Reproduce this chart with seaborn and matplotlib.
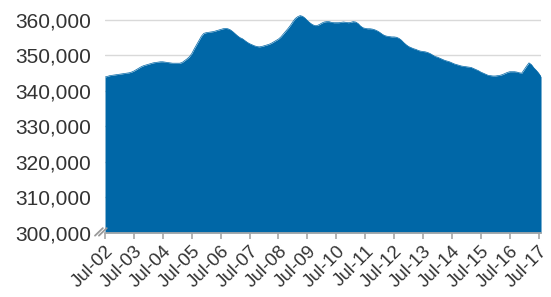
import numpy as np
import pandas as pd
import matplotlib
matplotlib.use("Agg")
import matplotlib.pyplot as plt
import seaborn as sns

# monthly values, Jul-02 .. Aug-17 (thousands)
values_k = [
    343.9, 344.1, 344.3, 344.4, 344.5, 344.6, 344.7, 344.8, 344.9, 345.0, 345.1, 345.3,
    345.6, 346.0, 346.4, 346.8, 347.1, 347.3, 347.5, 347.7, 347.9, 348.0, 348.1, 348.2,
    348.2, 348.1, 348.0, 347.9, 347.8, 347.8, 347.8, 347.8, 348.0, 348.5, 349.0, 349.6,
    350.5, 351.8, 353.0, 354.2, 355.4, 356.2, 356.4, 356.5, 356.6, 356.7, 356.9, 357.1,
    357.3, 357.5, 357.6, 357.5, 357.2, 356.7, 356.1, 355.5, 355.0, 354.7, 354.2, 353.7,
    353.3, 353.0, 352.7, 352.5, 352.4, 352.5, 352.7, 352.9, 353.1, 353.4, 353.8, 354.2,
    354.6, 355.2, 356.0, 356.8, 357.6, 358.5, 359.5, 360.4, 360.9, 361.2, 361.0, 360.5,
    359.8, 359.2, 358.7, 358.4, 358.4, 358.7, 359.1, 359.4, 359.5, 359.5, 359.3, 359.2,
    359.2, 359.2, 359.3, 359.4, 359.3, 359.2, 359.3, 359.5, 359.4, 359.0, 358.3, 357.8,
    357.6, 357.5, 357.5, 357.4, 357.2, 356.9, 356.5, 356.0, 355.6, 355.4, 355.3, 355.2,
    355.2, 355.1, 354.8, 354.3, 353.6, 353.0, 352.5, 352.2, 351.9, 351.7, 351.4, 351.2,
    351.1, 351.0, 350.8, 350.5, 350.1, 349.7, 349.5, 349.2, 348.9, 348.6, 348.4, 348.2,
    347.9, 347.6, 347.4, 347.2, 347.0, 346.9, 346.8, 346.7, 346.6, 346.3, 346.0, 345.7,
    345.3, 345.0, 344.7, 344.4, 344.3, 344.2, 344.2, 344.3, 344.4, 344.6, 344.9, 345.2,
    345.4, 345.4, 345.4, 345.3, 345.1, 345.0, 346.0, 347.0, 347.9, 347.4, 346.5, 345.8,
    345.0, 344.0,
]
tick_labels = ["Jul-%02d" % y for y in range(2, 18)]
y_ticks = [300000, 310000, 320000, 330000, 340000, 350000, 360000]

df = pd.DataFrame({
    "month": np.arange(len(values_k)),
    "value": np.array(values_k) * 1000,
})

sns.set_theme(style="white")
plt.rcParams["font.family"] = ["Liberation Sans", "DejaVu Sans"]

blue = "#0067a7"
fig = plt.figure(figsize=(5.51, 2.97), dpi=100)
ax = fig.add_axes([0.1906, 0.2155, 0.7913, 0.7475])

ax.fill_between(df["month"], 300000, df["value"], color=blue, lw=0, zorder=2)
sns.lineplot(data=df, x="month", y="value", ax=ax, color=blue, lw=0.5, zorder=3)

ax.set_xlim(0, len(values_k) - 1)
ax.set_ylim(300000, 362500)
ax.set_yticks(y_ticks)
ax.set_yticklabels([f"{v:,}" for v in y_ticks], fontsize=15, color="#333333")
ax.set_xticks(np.arange(0, 181, 12))
ax.set_xticklabels(tick_labels, rotation=45, ha="right", rotation_mode="anchor",
                   fontsize=13.5, color="#333333")
ax.set_xlabel("")
ax.set_ylabel("")

ax.grid(axis="y", color="#d9d9d9", lw=1, zorder=0)
ax.set_axisbelow(True)
for s in ["top", "right", "left"]:
    ax.spines[s].set_visible(False)
ax.spines["bottom"].set_color("#aaaaaa")
ax.spines["bottom"].set_zorder(4)
ax.tick_params(axis="x", bottom=True, length=4, color="#aaaaaa", pad=3)
ax.tick_params(axis="y", left=False, length=0, pad=10)

# axis break mark
for dx in (-0.014, -0.005):
    ax.plot([dx - 0.009, dx + 0.009], [-0.012, 0.022], transform=ax.transAxes,
            color="#999999", lw=1.3, clip_on=False, zorder=5)

fig.savefig("out.png", dpi=100)
